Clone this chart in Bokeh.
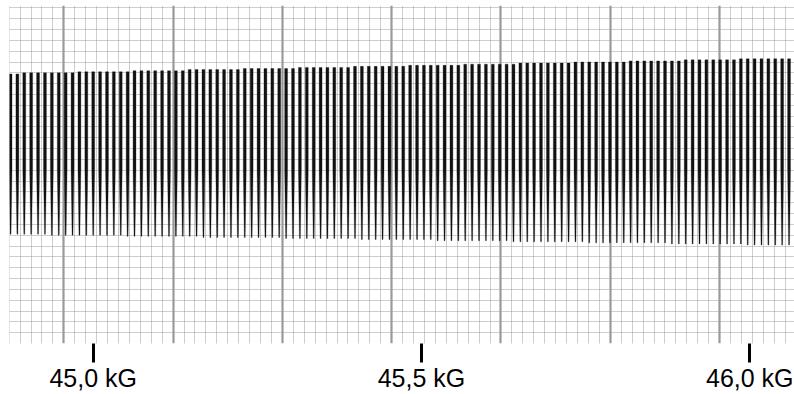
from bokeh.plotting import figure
from bokeh.models import Range1d, FixedTicker, Grid
from bokeh.embed import file_html
from bokeh.resources import INLINE

# ---- data (field in kG, pen position in chart divisions) ----
peak_field_kG = [
    44.8741, 44.8845, 44.8950, 44.9055, 44.9160, 44.9265, 44.9370, 44.9475, 44.9580, 44.9685,
    44.9790, 44.9895, 45.0000, 45.0105, 45.0210, 45.0314, 45.0419, 45.0524, 45.0629, 45.0734,
    45.0839, 45.0944, 45.1049, 45.1154, 45.1259, 45.1364, 45.1469, 45.1574, 45.1679, 45.1784,
    45.1889, 45.1993, 45.2098, 45.2203, 45.2308, 45.2413, 45.2518, 45.2623, 45.2728, 45.2833,
    45.2938, 45.3043, 45.3148, 45.3253, 45.3358, 45.3463, 45.3567, 45.3672, 45.3777, 45.3882,
    45.3987, 45.4092, 45.4197, 45.4302, 45.4407, 45.4512, 45.4617, 45.4722, 45.4827, 45.4932,
    45.5037, 45.5141, 45.5246, 45.5351, 45.5456, 45.5561, 45.5666, 45.5771, 45.5876, 45.5981,
    45.6086, 45.6191, 45.6296, 45.6401, 45.6506, 45.6611, 45.6715, 45.6820, 45.6925, 45.7030,
    45.7135, 45.7240, 45.7345, 45.7450, 45.7555, 45.7660, 45.7765, 45.7870, 45.7975, 45.8080,
    45.8185, 45.8289, 45.8394, 45.8499, 45.8604, 45.8709, 45.8814, 45.8919, 45.9024, 45.9129,
    45.9234, 45.9339, 45.9444, 45.9549, 45.9654, 45.9759, 45.9864, 45.9968, 46.0073, 46.0178,
    46.0283, 46.0388, 46.0493, 46.0598,
]

peak_top = [
    24.9, 24.9, 25.0, 25.0, 25.0, 25.0, 25.0, 25.0, 25.0, 25.0,
    25.1, 25.1, 25.1, 25.1, 25.1, 25.1, 25.1, 25.1, 25.2, 25.2,
    25.2, 25.2, 25.2, 25.2, 25.2, 25.2, 25.3, 25.3, 25.3, 25.3,
    25.3, 25.3, 25.3, 25.3, 25.4, 25.4, 25.4, 25.4, 25.4, 25.4,
    25.4, 25.4, 25.5, 25.5, 25.5, 25.5, 25.5, 25.5, 25.5, 25.5,
    25.6, 25.6, 25.6, 25.6, 25.6, 25.6, 25.6, 25.6, 25.7, 25.7,
    25.7, 25.7, 25.7, 25.7, 25.7, 25.7, 25.8, 25.8, 25.8, 25.8,
    25.8, 25.8, 25.8, 25.8, 25.9, 25.9, 25.9, 25.9, 25.9, 25.9,
    25.9, 25.9, 26.0, 26.0, 26.0, 26.0, 26.0, 26.0, 26.0, 26.0,
    26.1, 26.1, 26.1, 26.1, 26.1, 26.1, 26.1, 26.1, 26.2, 26.2,
    26.2, 26.2, 26.2, 26.2, 26.2, 26.2, 26.3, 26.3, 26.3, 26.3,
    26.3, 26.3, 26.3, 26.3,
]

peak_bottom = [
    10.1, 10.1, 10.1, 10.1, 10.1, 10.1, 10.0, 10.0, 10.0, 10.0,
    10.0, 10.0, 10.0, 10.0, 10.0, 10.0, 10.0, 9.9, 9.9, 9.9,
    9.9, 9.9, 9.9, 9.9, 9.9, 9.9, 9.9, 9.9, 9.8, 9.8,
    9.8, 9.8, 9.8, 9.8, 9.8, 9.8, 9.8, 9.8, 9.8, 9.8,
    9.7, 9.7, 9.7, 9.7, 9.7, 9.7, 9.7, 9.7, 9.7, 9.7,
    9.7, 9.6, 9.6, 9.6, 9.6, 9.6, 9.6, 9.6, 9.6, 9.6,
    9.6, 9.6, 9.5, 9.5, 9.5, 9.5, 9.5, 9.5, 9.5, 9.5,
    9.5, 9.5, 9.5, 9.4, 9.4, 9.4, 9.4, 9.4, 9.4, 9.4,
    9.4, 9.4, 9.4, 9.4, 9.3, 9.3, 9.3, 9.3, 9.3, 9.3,
    9.3, 9.3, 9.3, 9.3, 9.3, 9.3, 9.2, 9.2, 9.2, 9.2,
    9.2, 9.2, 9.2, 9.2, 9.2, 9.2, 9.2, 9.1, 9.1, 9.1,
    9.1, 9.1, 9.1, 9.1,
]

tick_fields = [45.0, 45.5, 46.0]
tick_labels = ["45,0 kG", "45,5 kG", "46,0 kG"]

assert len(peak_field_kG) == len(peak_top) == len(peak_bottom)

# ---- recorder paper geometry (style, not data) ----
X_START, X_END = 44.8725, 46.0681      # visible field window of the paper
Y_START, Y_END = 0.0, 31.22            # chart divisions
PAPER_MAJOR0 = 44.95522                # a heavy vertical paper line
PAPER_STEP = 0.0166463                 # fine vertical paper division (kG)

p = figure(width=794, height=394, output_backend="svg", toolbar_location=None,
           x_range=Range1d(X_START, X_END), y_range=Range1d(Y_START, Y_END),
           y_axis_location=None, min_border_left=9, min_border_right=0,
           min_border_top=5, min_border_bottom=49, outline_line_color=None,
           background_fill_color="white", border_fill_color="white")
p.xgrid.visible = False
p.ygrid.visible = False

minor_x = [PAPER_MAJOR0 + PAPER_STEP * n for n in range(-5, 68) if n % 10 != 0]
major_x = [PAPER_MAJOR0 + PAPER_STEP * n for n in range(0, 68, 10)]
rows_y = [float(n) for n in range(1, 32)]

p.add_layout(Grid(dimension=0, ticker=FixedTicker(ticks=minor_x),
                  grid_line_color="#9c9c9c", grid_line_width=1, grid_line_dash="1 1"))
p.add_layout(Grid(dimension=1, ticker=FixedTicker(ticks=rows_y),
                  grid_line_color="#9c9c9c", grid_line_width=1, grid_line_dash="1 1"))
p.add_layout(Grid(dimension=0, ticker=FixedTicker(ticks=major_x),
                  grid_line_color="#999999", grid_line_width=2.2))

# ---- pen trace: each oscillation drawn as a tapering ink stroke ----
PX = (X_END - X_START) / 785.0
hw_top = 1.45 * PX
hw_tip = 0.45 * PX
xs, ys = [], []
for b, t, lo in zip(peak_field_kG, peak_top, peak_bottom):
    knee = lo + 0.4 * (t - lo)
    xs.append([b - hw_top, b + hw_top, b + hw_top, b + hw_tip, b - hw_tip, b - hw_top])
    ys.append([t, t, knee, lo, lo, knee])
p.patches(xs=xs, ys=ys, fill_color="#111111", line_color="#111111", line_width=0.3)

# ---- field axis ----
ax = p.xaxis[0]
ax.ticker = FixedTicker(ticks=tick_fields)
ax.major_label_overrides = {f: lab for f, lab in zip(tick_fields, tick_labels)}
ax.axis_line_color = None
ax.minor_tick_line_color = None
ax.major_tick_line_color = "black"
ax.major_tick_line_width = 3
ax.major_tick_in = 0
ax.major_tick_out = 19
ax.major_label_standoff = 1
ax.major_label_text_font = "Liberation Sans"
ax.major_label_text_font_size = "25px"
ax.major_label_text_color = "black"

open("out.html", "w").write(file_html(p, INLINE))
